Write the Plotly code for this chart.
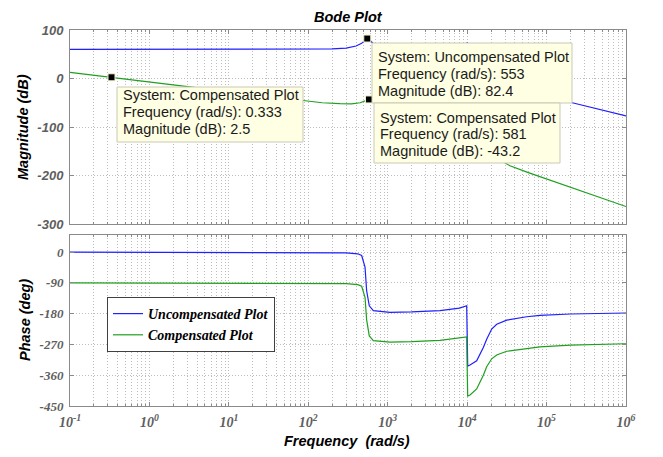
import plotly.graph_objects as go

# ---------------- data ----------------
# Magnitude, uncompensated loop
freq_unc_mag = [0.1, 1, 10, 100, 200, 300, 400, 470, 520, 553, 580, 620, 700, 850, 1000,
                2000, 4000, 7000, 9000, 9700, 10000, 10300, 11000, 13000, 20000, 30000,
                50000, 1e5, 2.17e5, 5e5, 1e6]
mag_unc = [60, 60, 60, 60.3, 61, 62.5, 67, 72.5, 78, 82.4, 81, 76, 68, 58, 52,
           38, 26, 18, 20, 35, 75, 35, 20, 10, -4, -15,
           -25, -37, -50.5, -65, -77]

# Magnitude, compensated loop
freq_cmp_mag = [0.1, 0.333, 1, 3, 10, 30, 85, 150, 250, 350, 450, 520, 581, 620, 700, 850,
                1000, 2000, 4000, 7000, 9000, 9700, 10000, 10300, 11000, 13000, 20000,
                34600, 59000, 1e5, 2.17e5, 5e5, 1e6]
mag_cmp = [12.5, 2.5, -7, -16.6, -27, -36.6, -45.5, -50, -52, -52.5, -50, -46.5, -43.2, -44.5, -52, -62,
           -69, -92, -112, -125, -126, -112, -72, -112, -128, -139, -157,
           -180, -194, -207, -226, -246, -264]

# Phase, uncompensated loop
freq_unc_ph = [0.1, 100, 300, 420, 470, 518, 543, 586, 659, 1069, 2000, 4550, 8000, 9870,
               10000, 10160, 10870, 13180, 15990, 17620, 20370, 23550, 31480, 56230, 82600,
               2e5, 1e6]
ph_unc = [0, -0.3, -2, -5, -10, -44, -113, -157, -171, -176, -175, -171, -164, -157,
          -245, -333, -330, -318, -279, -255, -225, -211, -199, -189, -185,
          -181, -178]

# Phase, compensated loop
freq_cmp_ph = [0.1, 100, 300, 420, 470, 518, 543, 586, 659, 1069, 2000, 4550, 8000, 9870,
               10000, 10160, 10870, 13180, 15990, 17620, 20370, 23550, 31480, 56230, 82600,
               2e5, 1e6]
ph_cmp = [-90, -90.3, -92, -95, -100, -132, -198, -245, -259, -263, -262, -258, -252, -248,
          -330, -421, -418, -400, -360, -335, -312, -301, -290, -281, -277,
          -272, -268]

# Data tips shown on the magnitude plot
tip_sys = ["Compensated Plot", "Uncompensated Plot", "Compensated Plot"]
tip_freq = [0.333, 553, 581]
tip_mag = [2.5, 82.4, -43.2]

# Axis ticks
x_tick_exps = [-1, 0, 1, 2, 3, 4, 5, 6]
mag_ticks = [100, 0, -100, -200, -300]
phase_ticks = [0, -90, -180, -270, -360, -450]

# ---------------- styling ----------------
BLUE = "#1f1fff"
GREEN = "#1ea01e"
FRAME = "#8a8a8a"
GRID = "#bdbdbd"
TICKC = "#5e5e5e"
SANS = "Liberation Sans, Arial, sans-serif"
SERIF = "Liberation Serif, Times New Roman, serif"

# plot area in pixels (figure is 663 x 457)
L, R, T, B = 70, 626, 30, 406


def px(x):
    return (x - L) / (R - L)


def py(y):
    return (B - y) / (B - T)


fig = go.Figure()

fig.add_trace(go.Scatter(x=freq_unc_mag, y=mag_unc, mode="lines", line=dict(color=BLUE, width=1.2),
                         xaxis="x", yaxis="y", showlegend=False))
fig.add_trace(go.Scatter(x=freq_cmp_mag, y=mag_cmp, mode="lines", line=dict(color=GREEN, width=1.2),
                         xaxis="x", yaxis="y", showlegend=False))
fig.add_trace(go.Scatter(x=freq_unc_ph, y=ph_unc, mode="lines", line=dict(color=BLUE, width=1.2),
                         xaxis="x2", yaxis="y2", name="Uncompensated Plot"))
fig.add_trace(go.Scatter(x=freq_cmp_ph, y=ph_cmp, mode="lines", line=dict(color=GREEN, width=1.2),
                         xaxis="x2", yaxis="y2", name="Compensated Plot"))

# data-tip markers
fig.add_trace(go.Scatter(x=tip_freq, y=tip_mag, mode="markers", xaxis="x", yaxis="y",
                         marker=dict(symbol="square", size=7, color="black",
                                     line=dict(color="#f4f4c8", width=1)),
                         showlegend=False))

minor_vals = [k * 10 ** e for e in range(-1, 6) for k in range(2, 10)]
tick_vals = [10 ** e for e in x_tick_exps]
tick_text = ["10<sup>%d</sup>" % e for e in x_tick_exps]

xcommon = dict(type="log", range=[-1, 6], showline=True, linecolor=FRAME, linewidth=1, mirror="allticks",
               ticks="inside", ticklen=4, tickcolor=FRAME, tickmode="array", tickvals=tick_vals,
               showgrid=True, gridcolor=GRID, griddash="1px,2px", gridwidth=1, zeroline=False,
               minor=dict(tickmode="array", tickvals=minor_vals, ticks="inside", ticklen=2,
                          tickcolor=FRAME, showgrid=True, gridcolor=GRID, griddash="1px,2px", gridwidth=1))

ycommon = dict(showline=True, linecolor=FRAME, linewidth=1, mirror="allticks", ticks="inside",
               ticklen=4, tickcolor=FRAME, showgrid=True, gridcolor=GRID, griddash="1px,2px",
               gridwidth=1, zeroline=False, tickmode="array", ticklabelstandoff=3)

fig.update_layout(
    width=663, height=457,
    margin=dict(l=L, r=663 - R, t=T, b=457 - B),
    paper_bgcolor="white", plot_bgcolor="white",
    xaxis=dict(xcommon, anchor="y", showticklabels=False),
    xaxis2=dict(xcommon, anchor="y2", matches="x", ticktext=tick_text, ticklabelstandoff=3,
                tickfont=dict(family=SERIF, size=14, color=TICKC, weight="bold", style="italic")),
    yaxis=dict(ycommon, anchor="x", domain=[py(224), 1], range=[-300, 100],
               tickvals=mag_ticks, ticktext=[str(v) for v in mag_ticks],
               tickfont=dict(family=SANS, size=13, color=TICKC, weight="bold", style="italic")),
    yaxis2=dict(ycommon, anchor="x2", domain=[0, py(235)], range=[-450, 50],
                tickvals=phase_ticks, ticktext=[str(v) for v in phase_ticks],
                tickfont=dict(family=SERIF, size=13, color=TICKC, weight="bold", style="italic")),
    legend=dict(x=px(107), y=py(297), xanchor="left", yanchor="top", bgcolor="white",
                bordercolor="#404040", borderwidth=1,
                font=dict(family=SERIF, size=14, color="black", weight="bold", style="italic"),
                tracegroupgap=0, itemwidth=30),
    showlegend=True,
)

ann = []
title_font = dict(family=SANS, size=14.5, color="black", weight="bold", style="italic")
ann.append(dict(text="Bode Plot", x=0.5, y=py(16.5), xref="paper", yref="paper",
                showarrow=False, font=title_font, xanchor="center", yanchor="middle"))
ann.append(dict(text="Frequency  (rad/s)", x=px(347), y=py(441), xref="paper", yref="paper",
                showarrow=False, font=title_font, xanchor="center", yanchor="middle"))
ann.append(dict(text="Magnitude (dB)", x=px(23), y=py(127), xref="paper", yref="paper",
                showarrow=False, font=title_font, textangle=-90, xanchor="center", yanchor="middle"))
ann.append(dict(text="Phase (deg)", x=px(25), y=py(320), xref="paper", yref="paper",
                showarrow=False, font=title_font, textangle=-90, xanchor="center", yanchor="middle"))

# data-tip boxes: (left, top, right, bottom) in pixels, text left, line centres
tip_boxes = [
    ((117, 87, 303, 142), 121, [95.5, 112.3, 128.7]),
    ((372, 43, 572, 103), 376, [57, 74, 90.5]),
    ((374, 103, 560, 163), 378, [117.7, 134.3, 151]),
]
shapes = []
tip_font = dict(family=SANS, size=14.5, color="#1a1a1a")
for (box, tx, lines_y), sysname, f, m in zip(tip_boxes, tip_sys, tip_freq, tip_mag):
    x0, y0, x1, y1 = box
    shapes.append(dict(type="rect", xref="paper", yref="paper", x0=px(x0), x1=px(x1),
                       y0=py(y1), y1=py(y0), fillcolor="#ffffe3",
                       line=dict(color="#c9c9b8", width=1), layer="above"))
    texts = ["System: %s" % sysname, "Frequency (rad/s): %g" % f, "Magnitude (dB): %g" % m]
    for t, ly in zip(texts, lines_y):
        ann.append(dict(text=t, x=px(tx), y=py(ly), xref="paper", yref="paper", showarrow=False,
                        font=tip_font, xanchor="left", yanchor="middle"))

fig.update_layout(annotations=ann, shapes=shapes)

fig.write_html("out.html")
